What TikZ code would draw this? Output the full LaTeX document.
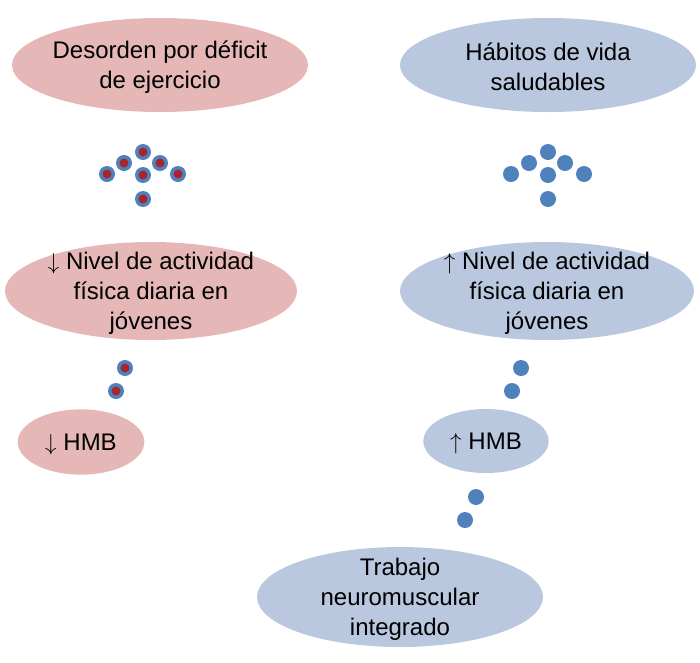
\documentclass[tikz,border=0pt]{standalone}
\usepackage{fontspec}
\setmainfont{Liberation Sans}
\usetikzlibrary{shapes.geometric}
\definecolor{rosa}{RGB}{229,184,183}
\definecolor{celeste}{RGB}{185,199,223}
\definecolor{punto}{RGB}{79,129,189}
\definecolor{rojo}{RGB}{166,38,44}
\begin{document}
\begin{tikzpicture}[x=0.75pt, y=-0.75pt,
    every label/.style={align=center, inner sep=0pt, yshift=-1.5pt, font=\fontsize{18}{22.5}\selectfont},
    red/.style={shape=ellipse, fill=rosa, inner sep=0pt},
    blue/.style={shape=ellipse, fill=celeste, inner sep=0pt}]
    \useasboundingbox (0,0) rectangle (700,662);

    \node[red, minimum width=222pt, minimum height=70.5pt, label=center:{Desorden por déficit\\de ejercicio}] (deficit) at (160,65) {};
    \node[blue, minimum width=222pt, minimum height=70.5pt, label=center:{Hábitos de vida\\saludables}] (habitos) at (548,65) {};
    \node[red, minimum width=219pt, minimum height=73.5pt, label=center:{$\downarrow$ Nivel de actividad\\física diaria en\\jóvenes}] (bajo) at (151,291) {};
    \node[blue, minimum width=220.5pt, minimum height=73.5pt, label=center:{$\uparrow$ Nivel de actividad\\física diaria en\\jóvenes}] (alto) at (547,291) {};
    \node[red, minimum width=95pt, minimum height=49pt, label=center:{$\downarrow$ HMB}] (hmbbajo) at (81,442) {};
    \node[blue, minimum width=94pt, minimum height=48pt, label=center:{$\uparrow$ HMB}] (hmbalto) at (486,441) {};
    \node[blue, minimum width=214.5pt, minimum height=75pt, label=center:{Trabajo\\neuromuscular\\integrado}] (trabajo) at (400,597) {};

    % flecha de puntos izquierda
    \foreach \x/\y in {143/152, 124/163, 160/163, 107/174, 143/175, 178/174, 143/199, 125/368, 116/391} {
        \fill[punto] (\x,\y) circle (8);
        \fill[rojo] (\x,\y) circle (4.5);
    }
    % flecha de puntos derecha
    \foreach \x/\y in {548/152, 529/163, 565/163, 511/174, 548/175, 584/174, 548/199, 521/368, 512/391, 476/497, 465/520}
        \fill[punto] (\x,\y) circle (8);
\end{tikzpicture}
\end{document}
